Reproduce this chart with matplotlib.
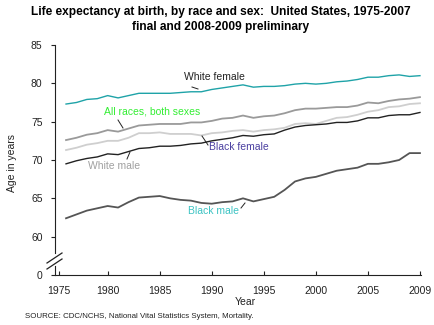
import matplotlib
matplotlib.use("Agg")
import matplotlib.pyplot as plt
from matplotlib.lines import Line2D

plt.rcParams['font.family'] = ['Liberation Sans', 'DejaVu Sans']

years = list(range(1975, 2010))
white_female = [77.3, 77.5, 77.9, 78.0, 78.4, 78.1, 78.4, 78.7, 78.7, 78.7, 78.7, 78.8, 78.9, 78.9, 79.2,
                79.4, 79.6, 79.8, 79.5, 79.6, 79.6, 79.7, 79.9, 80.0, 79.9, 80.0, 80.2, 80.3, 80.5, 80.8,
                80.8, 81.0, 81.1, 80.9, 81.0]
all_races = [72.6, 72.9, 73.3, 73.5, 73.9, 73.7, 74.1, 74.5, 74.6, 74.7, 74.7, 74.7, 74.9, 74.9, 75.1,
             75.4, 75.5, 75.8, 75.5, 75.7, 75.8, 76.1, 76.5, 76.7, 76.7, 76.8, 76.9, 76.9, 77.1, 77.5,
             77.4, 77.7, 77.9, 78.0, 78.2]
black_female = [71.3, 71.6, 72.0, 72.2, 72.5, 72.5, 72.9, 73.5, 73.5, 73.6, 73.4, 73.4, 73.4, 73.2, 73.5,
                73.6, 73.8, 73.9, 73.7, 73.9, 74.0, 74.2, 74.7, 74.8, 74.7, 75.1, 75.5, 75.6, 75.9, 76.3,
                76.5, 76.9, 77.0, 77.3, 77.4]
white_male = [69.5, 69.9, 70.2, 70.4, 70.8, 70.7, 71.1, 71.5, 71.6, 71.8, 71.8, 71.9, 72.1, 72.2, 72.5,
              72.7, 72.9, 73.2, 73.1, 73.3, 73.4, 73.9, 74.3, 74.5, 74.6, 74.7, 74.9, 74.9, 75.1, 75.5,
              75.5, 75.8, 75.9, 75.9, 76.2]
black_male = [62.4, 62.9, 63.4, 63.7, 64.0, 63.8, 64.5, 65.1, 65.2, 65.3, 65.0, 64.8, 64.7, 64.4, 64.3,
              64.5, 64.6, 65.0, 64.6, 64.9, 65.2, 66.1, 67.2, 67.6, 67.8, 68.2, 68.6, 68.8, 69.0, 69.5,
              69.5, 69.7, 70.0, 70.9, 70.9]

x_tick_labels = ['1975', '1980', '1985', '1990', '1995', '2000', '2005', '2009']
x_tick_pos = [1974.3, 1979, 1984, 1989, 1994, 1999, 2004, 2009]
y_tick_pos = [55, 60, 65, 70, 75, 80, 85]
y_tick_labels = ['0', '60', '65', '70', '75', '80', '85']

W, H = 435, 325
fig = plt.figure(figsize=(W / 100, H / 100), dpi=100)
ax = fig.add_axes([55 / W, 1 - 275 / H, (421 - 55) / W, (275 - 45) / H])

ax.plot(years, white_female, color='#1fa3a8', lw=1.0)
ax.plot(years, all_races, color='#9a9a9a', lw=1.3)
ax.plot(years, black_female, color='#cfcfcf', lw=1.3)
ax.plot(years, white_male, color='#222222', lw=1.0)
ax.plot(years, black_male, color='#555555', lw=1.3)

ax.set_xlim(1973.94, 2009.1)
ax.set_ylim(55, 85)
for s in ['top', 'right']:
    ax.spines[s].set_visible(False)
ax.spines['left'].set_color('#222222')
ax.spines['bottom'].set_color('#222222')
ax.spines['left'].set_bounds(57.9, 85)
ax.set_xticks(x_tick_pos)
ax.set_xticklabels(x_tick_labels)
ax.set_yticks(y_tick_pos)
ax.set_yticklabels(y_tick_labels)
ax.tick_params(axis='x', direction='in', length=3, labelsize=7.5, colors='#222222', pad=8)
ax.tick_params(axis='y', direction='out', length=3, labelsize=7.5, colors='#222222', pad=6)

# axis break marks
for y0 in (258, 264):
    fig.add_artist(Line2D([47 / W, 62 / W], [1 - (y0 + 5) / H, 1 - (y0 - 5) / H], color='#222222', lw=0.9))
fig.add_artist(Line2D([55 / W, 55 / W], [1 - 275 / H, 1 - 266 / H], color='#222222', lw=0.8))

fig.text(221 / W, 1 - 12 / H, 'Life expectancy at birth, by race and sex:  United States, 1975-2007',
         ha='center', va='center', fontsize=8.6, fontweight='bold')
fig.text(221 / W, 1 - 27 / H, 'final and 2008-2009 preliminary',
         ha='center', va='center', fontsize=8.6, fontweight='bold')

fig.text(12 / W, 1 - 163 / H, 'Age in years', rotation=90, ha='center', va='center', fontsize=7.5, color='#222222')
fig.text(245 / W, 1 - 302 / H, 'Year', ha='center', va='center', fontsize=7.5, color='#222222')
fig.text(25 / W, 1 - 316 / H, 'SOURCE: CDC/NCHS, National Vital Statistics System, Mortality.',
         ha='left', va='center', fontsize=5.7, color='#222222')

def label(text, x, y, color, line):
    fig.text(x / W, 1 - y / H, text, ha='left', va='center', fontsize=7.5, color=color)
    (x1, y1), (x2, y2) = line
    fig.add_artist(Line2D([x1 / W, x2 / W], [1 - y1 / H, 1 - y2 / H], color='#222222', lw=0.7))

label('White female', 184, 77, '#222222', ((192, 87), (198, 89)))
label('All races, both sexes', 104, 112, '#33ee33', ((118, 120), (123, 128)))
label('White male', 88, 166, '#a0a0a0', ((127, 159), (130, 152)))
label('Black female', 209, 147, '#4a3fa0', ((202, 136), (208, 145)))
label('Black male', 188, 211, '#3cc3c3', ((241, 208), (245, 203)))

fig.savefig('out.png', dpi=100)
